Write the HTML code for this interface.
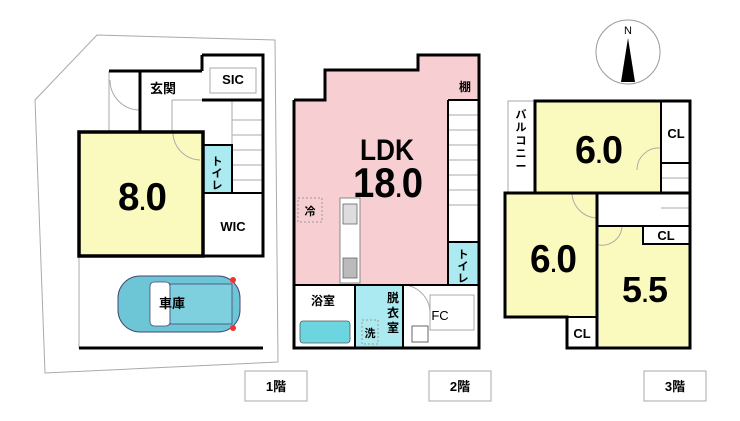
<!DOCTYPE html>
<html><head><meta charset="utf-8"><style>
html,body{margin:0;padding:0;background:#fff;}
svg{display:block;}
text{font-family:"Liberation Sans","Noto Sans CJK JP",sans-serif;fill:#000;}
</style></head><body>
<svg width="740" height="421" viewBox="0 0 740 421" xmlns="http://www.w3.org/2000/svg">
<!-- lot -->
<polygon points="97,35 275,40 278,362 45,373 35,100" fill="none" stroke="#aaa" stroke-width="1"/>
<!-- 1F -->
<rect x="79" y="132" width="124" height="124" fill="#fafabe"/>
<rect x="203" y="145" width="29" height="48" fill="#aaeaf0"/>
<g stroke="#aaa" fill="none" stroke-width="1">
<rect x="210" y="68" width="46" height="25"/>
<line x1="232" y1="101" x2="232" y2="193"/>
<line x1="232" y1="120" x2="263" y2="120"/><line x1="232" y1="135" x2="263" y2="135"/>
<line x1="232" y1="150" x2="263" y2="150"/><line x1="232" y1="165" x2="263" y2="165"/><line x1="232" y1="180" x2="263" y2="180"/>
<path d="M173,132 A28,28 0 0 0 200,160"/>
<path d="M110,80 A30,30 0 0 0 140,110"/>
<line x1="79" y1="256" x2="79" y2="348"/>
<line x1="109" y1="71" x2="109" y2="132"/>
<line x1="172" y1="100" x2="232" y2="100"/><line x1="172" y1="100" x2="172" y2="132"/>
</g>
<g stroke="#000" stroke-width="3" fill="none">
<polyline points="79,132 140,132"/>
<polyline points="172,132 203,132 203,145"/>
<rect x="79" y="132" width="124" height="124" fill="none" stroke-width="3.5"/>
<polyline points="109,71 202,71"/>
<polyline points="140,71 140,132"/>
<polyline points="202,55 263,55 263,256 79,256"/>
<line x1="202" y1="55" x2="202" y2="71"/>
<line x1="202" y1="100" x2="263" y2="100"/>
<rect x="203" y="145" width="29" height="48" stroke-width="2"/>
<line x1="203" y1="193" x2="263" y2="193" stroke-width="2"/>
<line x1="79" y1="348" x2="263" y2="348"/>
</g>
<text x="163" y="93" font-size="13" font-weight="bold" text-anchor="middle">玄関</text>
<text x="233" y="84" font-size="13" font-weight="bold" text-anchor="middle">SIC</text>
<text x="217" y="165" font-size="11" font-weight="bold" text-anchor="middle">ト</text>
<text x="217" y="177" font-size="11" font-weight="bold" text-anchor="middle">イ</text>
<text x="217" y="189" font-size="11" font-weight="bold" text-anchor="middle">レ</text>
<text x="233" y="231" font-size="13" font-weight="bold" text-anchor="middle">WIC</text>
<text x="118" y="210" font-size="39" font-weight="bold" textLength="49" lengthAdjust="spacingAndGlyphs">8<tspan font-size="22">.</tspan>0</text>
<!-- car -->
<g>
<rect x="118" y="276" width="122" height="56" rx="22" fill="#6cc6d6" stroke="#447" stroke-width="1"/>
<rect x="150" y="282" width="20" height="44" rx="4" fill="#fff" stroke="#447" stroke-width="0.8"/>
<rect x="170" y="284" width="62" height="40" fill="#7fd0de" stroke="#447" stroke-width="0.8"/>
<circle cx="233" cy="280" r="3" fill="#e33"/><circle cx="233" cy="328" r="3" fill="#e33"/>
<text x="172" y="308" font-size="13" font-weight="bold" text-anchor="middle">車庫</text>
</g>
<!-- 2F -->
<polygon points="294,100 325,100 325,70 418,70 418,55 479,55 479,100 448,100 448,285 294,285" fill="#f7cfd2"/>
<rect x="448" y="242" width="31" height="43" fill="#aaeaf0"/>
<rect x="355" y="285" width="48" height="63" fill="#aaeaf0"/>
<rect x="300" y="321" width="50" height="22" rx="3" fill="#6cd6e0" stroke="#555" stroke-width="0.8"/>
<rect x="340" y="198" width="20" height="85" fill="#fff" stroke="#888" stroke-width="1"/>
<rect x="343" y="204" width="14" height="20" fill="#ddd" stroke="#666" stroke-width="0.8"/>
<rect x="343" y="258" width="14" height="20" fill="#bbb" stroke="#666" stroke-width="0.8"/>
<rect x="298" y="198" width="24" height="24" fill="none" stroke="#999" stroke-dasharray="2,2"/>
<rect x="362" y="320" width="16" height="24" fill="none" stroke="#999" stroke-dasharray="2,2"/>
<rect x="412" y="326" width="16" height="16" fill="#fff" stroke="#666"/>
<g stroke="#aaa" fill="none">
<line x1="448" y1="115" x2="479" y2="115"/><line x1="448" y1="130" x2="479" y2="130"/><line x1="448" y1="145" x2="479" y2="145"/>
<line x1="448" y1="160" x2="479" y2="160"/><line x1="448" y1="175" x2="479" y2="175"/><line x1="448" y1="190" x2="479" y2="190"/>
<line x1="448" y1="205" x2="479" y2="205"/>
<path d="M403,285 A28,28 0 0 1 430,313"/>
<rect x="430" y="295" width="44" height="35"/>
</g>
<g stroke="#000" stroke-width="3" fill="none">
<polyline points="294,100 325,100 325,70 418,70 418,55 479,55 479,348 294,348 294,100"/>
<line x1="448" y1="100" x2="479" y2="100" stroke-width="2"/>
<line x1="448" y1="100" x2="448" y2="285" stroke-width="2"/>
<line x1="294" y1="285" x2="479" y2="285" stroke-width="2"/>
<line x1="355" y1="285" x2="355" y2="348" stroke-width="2"/>
<line x1="403" y1="285" x2="403" y2="348" stroke-width="2"/>
<line x1="448" y1="242" x2="479" y2="242" stroke-width="2"/>
</g>
<text x="360" y="160" font-size="30" font-weight="bold" textLength="54" lengthAdjust="spacingAndGlyphs">LDK</text>
<text x="353" y="197" font-size="42" font-weight="bold" textLength="70" lengthAdjust="spacingAndGlyphs">18<tspan font-size="24">.</tspan>0</text>
<text x="465" y="91" font-size="12" font-weight="bold" text-anchor="middle">棚</text>
<text x="310" y="215" font-size="11" font-weight="bold" text-anchor="middle">冷</text>
<text x="323" y="305" font-size="12" font-weight="bold" text-anchor="middle">浴室</text>
<text x="370" y="337" font-size="11" font-weight="bold" text-anchor="middle">洗</text>
<text x="393" y="302" font-size="12" font-weight="bold" text-anchor="middle">脱</text>
<text x="393" y="317" font-size="12" font-weight="bold" text-anchor="middle">衣</text>
<text x="393" y="332" font-size="12" font-weight="bold" text-anchor="middle">室</text>
<text x="440" y="320" font-size="13" text-anchor="middle">FC</text>
<text x="463" y="258" font-size="11" font-weight="bold" text-anchor="middle">ト</text>
<text x="463" y="270" font-size="11" font-weight="bold" text-anchor="middle">イ</text>
<text x="463" y="282" font-size="11" font-weight="bold" text-anchor="middle">レ</text>
<!-- 3F -->
<circle cx="628" cy="52" r="32" fill="none" stroke="#999"/>
<text x="628" y="34" font-size="11" text-anchor="middle" font-family="Liberation Serif,serif">N</text>
<polygon points="628,38 621,82 635,82" fill="#000"/>
<rect x="535" y="101" width="126" height="92" fill="#fafabe"/>
<rect x="505" y="193" width="92" height="124" fill="#fafabe"/>
<polygon points="599,226 643,226 643,244 690,244 690,348 599,348" fill="#fafabe"/>
<rect x="508" y="101" width="27" height="92" fill="none" stroke="#aaa"/>
<g stroke="#aaa" fill="none">
<line x1="661" y1="178" x2="690" y2="178"/><line x1="661" y1="193" x2="690" y2="193"/><line x1="661" y1="208" x2="690" y2="208"/>
<path d="M572,193 A26,26 0 0 0 597,218"/>
<path d="M599,245 A20,20 0 0 0 622,226"/>
<path d="M661,148 A22,22 0 0 0 637,170"/>
</g>
<g stroke="#000" stroke-width="3" fill="none">
<rect x="535" y="101" width="155" height="92" fill="none"/>
<line x1="661" y1="101" x2="661" y2="193" stroke-width="2"/>
<line x1="661" y1="163" x2="690" y2="163" stroke-width="2"/>
<polyline points="690,193 690,348 567,348 567,317 505,317 505,193 597,193"/>
<line x1="597" y1="193" x2="597" y2="348"/>
<line x1="597" y1="226" x2="690" y2="226" stroke-width="2"/>
<rect x="643" y="226" width="47" height="18" stroke-width="2"/>
<line x1="567" y1="317" x2="597" y2="317" stroke-width="2"/>
</g>
<text x="676" y="138" font-size="13" font-weight="bold" text-anchor="middle">CL</text>
<text x="666" y="240" font-size="13" font-weight="bold" text-anchor="middle">CL</text>
<text x="582" y="338" font-size="13" font-weight="bold" text-anchor="middle">CL</text>
<text x="521" y="118" font-size="11" font-weight="bold" text-anchor="middle">バ</text>
<text x="521" y="131" font-size="11" font-weight="bold" text-anchor="middle">ル</text>
<text x="521" y="144" font-size="11" font-weight="bold" text-anchor="middle">コ</text>
<text x="521" y="157" font-size="11" font-weight="bold" text-anchor="middle">ニ</text>
<text x="521" y="170" font-size="11" font-weight="bold" text-anchor="middle">ー</text>
<text x="575" y="163" font-size="39" font-weight="bold" textLength="48" lengthAdjust="spacingAndGlyphs">6<tspan font-size="22">.</tspan>0</text>
<text x="530" y="272" font-size="39" font-weight="bold" textLength="47" lengthAdjust="spacingAndGlyphs">6<tspan font-size="22">.</tspan>0</text>
<text x="622" y="302" font-size="36" font-weight="bold" textLength="46" lengthAdjust="spacingAndGlyphs">5<tspan font-size="22">.</tspan>5</text>
<!-- floor labels -->
<g fill="#fff" stroke="#aaa">
<rect x="245" y="371" width="62" height="30"/>
<rect x="429" y="371" width="62" height="30"/>
<rect x="644" y="371" width="62" height="30"/>
</g>
<text x="276" y="391" font-size="13" font-weight="bold" text-anchor="middle">1階</text>
<text x="460" y="391" font-size="13" font-weight="bold" text-anchor="middle">2階</text>
<text x="675" y="391" font-size="13" font-weight="bold" text-anchor="middle">3階</text>
</svg>
</body></html>
